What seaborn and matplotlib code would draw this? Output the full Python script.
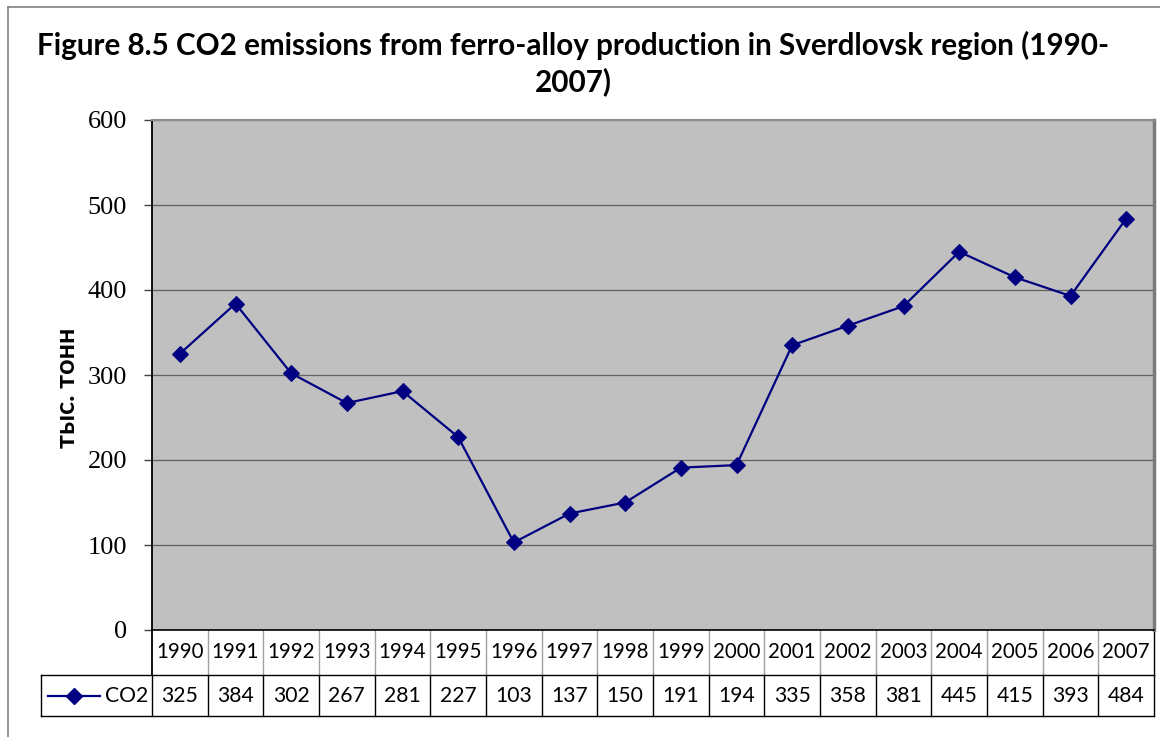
import matplotlib
matplotlib.use("Agg")
import matplotlib.pyplot as plt
import matplotlib.transforms as mtransforms
from matplotlib.lines import Line2D
import numpy as np
import pandas as pd
import seaborn as sns

# Data
years = ["1990", "1991", "1992", "1993", "1994", "1995", "1996", "1997", "1998",
         "1999", "2000", "2001", "2002", "2003", "2004", "2005", "2006", "2007"]
co2 = [325, 384, 302, 267, 281, 227, 103, 137, 150, 191, 194, 335, 358, 381,
       445, 415, 393, 484]
series_name = "CO2"
y_ticks = [0, 100, 200, 300, 400, 500, 600]
title = "Figure 8.5 CO2 emissions from ferro-alloy production in Sverdlovsk region (1990-\n2007)"
y_label = "тыс. тонн"

LINE_COLOR = "#000080"
PLOT_BG = "#C0C0C0"
TABLE_FONT = "Lato"

df = pd.DataFrame({"pos": np.arange(len(years)), "value": co2})

fig = plt.figure(figsize=(11.6, 7.37), dpi=100)
W, H = 1160, 737

# Outer chart frame
fig.add_artist(Line2D([8 / W, 1.0], [1 - 7 / H, 1 - 7 / H], transform=fig.transFigure,
                      color="#808080", lw=1.2))
fig.add_artist(Line2D([8 / W, 8 / W], [0, 1 - 7 / H], transform=fig.transFigure,
                      color="#808080", lw=1.2))

left, right, top, bottom = 152, 1154, 120, 630
ax = fig.add_axes([left / W, 1 - bottom / H, (right - left) / W, (bottom - top) / H])
ax.set_facecolor(PLOT_BG)

sns.lineplot(data=df, x="pos", y="value", ax=ax, color=LINE_COLOR, lw=1.6,
             marker="D", markersize=8, markeredgecolor=LINE_COLOR, zorder=5)

ax.set_xlim(-0.5, len(years) - 0.5)
ax.set_ylim(0, 600)
ax.set_yticks(y_ticks)
ax.set_yticklabels([str(t) for t in y_ticks], fontfamily="Liberation Serif", fontsize=19)
ax.tick_params(axis="y", length=6, width=1, color="#404040", pad=12)
ax.set_xticks([])
ax.set_xlabel("")
ax.set_ylabel("")
ax.grid(axis="y", color="#606060", lw=0.9)
ax.set_axisbelow(True)

for side in ["top", "right", "left", "bottom"]:
    ax.spines[side].set_visible(True)
ax.spines["left"].set_color("black")
ax.spines["left"].set_linewidth(1.3)
ax.spines["top"].set_color("#8c8c8c")
ax.spines["top"].set_linewidth(1.5)
ax.spines["right"].set_color("#7a7a7a")
ax.spines["right"].set_linewidth(2.5)
ax.spines["bottom"].set_color("black")
ax.spines["bottom"].set_linewidth(1.2)

# Data table below the plot
ah = bottom - top
aw = right - left
row1_bot = -(675 - bottom) / ah
row2_bot = -(716 - bottom) / ah
legend_left = -(left - 41) / aw

bt = mtransforms.blended_transform_factory(ax.transData, ax.transAxes)
n = len(years)
for i in range(n + 1):
    xb = i - 0.5
    if 0 < i < n:
        ax.add_line(Line2D([xb, xb], [0, row1_bot], transform=bt, color="#a0a0a0",
                           lw=1.0, clip_on=False))
    ax.add_line(Line2D([xb, xb], [row1_bot, row2_bot], transform=bt, color="black",
                       lw=1.0, clip_on=False))
ax.add_line(Line2D([n - 0.5, n - 0.5], [0, row1_bot], transform=bt, color="black",
                   lw=1.0, clip_on=False))
ax.add_line(Line2D([-0.5, -0.5], [0, row1_bot], transform=bt, color="black",
                   lw=1.3, clip_on=False))

at = ax.transAxes
ax.add_line(Line2D([legend_left, 1.0], [row1_bot, row1_bot], transform=at, color="black",
                   lw=1.0, clip_on=False))
ax.add_line(Line2D([legend_left, 1.0], [row2_bot, row2_bot], transform=at, color="black",
                   lw=1.0, clip_on=False))
ax.add_line(Line2D([legend_left, legend_left], [row1_bot, row2_bot], transform=at,
                   color="black", lw=1.0, clip_on=False))

row1_mid = row1_bot / 2
row2_mid = (row1_bot + row2_bot) / 2
for i, (yr, v) in enumerate(zip(years, co2)):
    ax.text(i, row1_mid, yr, transform=bt, ha="center", va="center",
            fontfamily=TABLE_FONT, fontsize=14.8, color="black", clip_on=False)
    ax.text(i, row2_mid, str(v), transform=bt, ha="center", va="center",
            fontfamily=TABLE_FONT, fontsize=15.2, color="black", clip_on=False)

# Legend key inside the table
kx0 = -(left - 48) / aw
kx1 = -(left - 100) / aw
ax.add_line(Line2D([kx0, kx1], [row2_mid, row2_mid], transform=at, color=LINE_COLOR,
                   lw=1.6, clip_on=False))
ax.add_line(Line2D([(kx0 + kx1) / 2], [row2_mid], transform=at, color=LINE_COLOR,
                   marker="D", markersize=8, clip_on=False))
ax.text(-(left - 105) / aw, row2_mid, series_name, transform=at, ha="left", va="center",
        fontfamily=TABLE_FONT, fontsize=15.2, color="black", clip_on=False)

# Axis title and chart title
fig.text(67 / W, 1 - 388 / H, y_label, rotation=90, ha="center", va="center",
         fontfamily="Lato", fontweight="bold", fontsize=19.5)
fig.text(573 / W, 1 - 31 / H, title, ha="center", va="top", fontfamily="Lato",
         fontweight="bold", fontsize=21.3, linespacing=1.3)

fig.savefig("out.png", dpi=100)
